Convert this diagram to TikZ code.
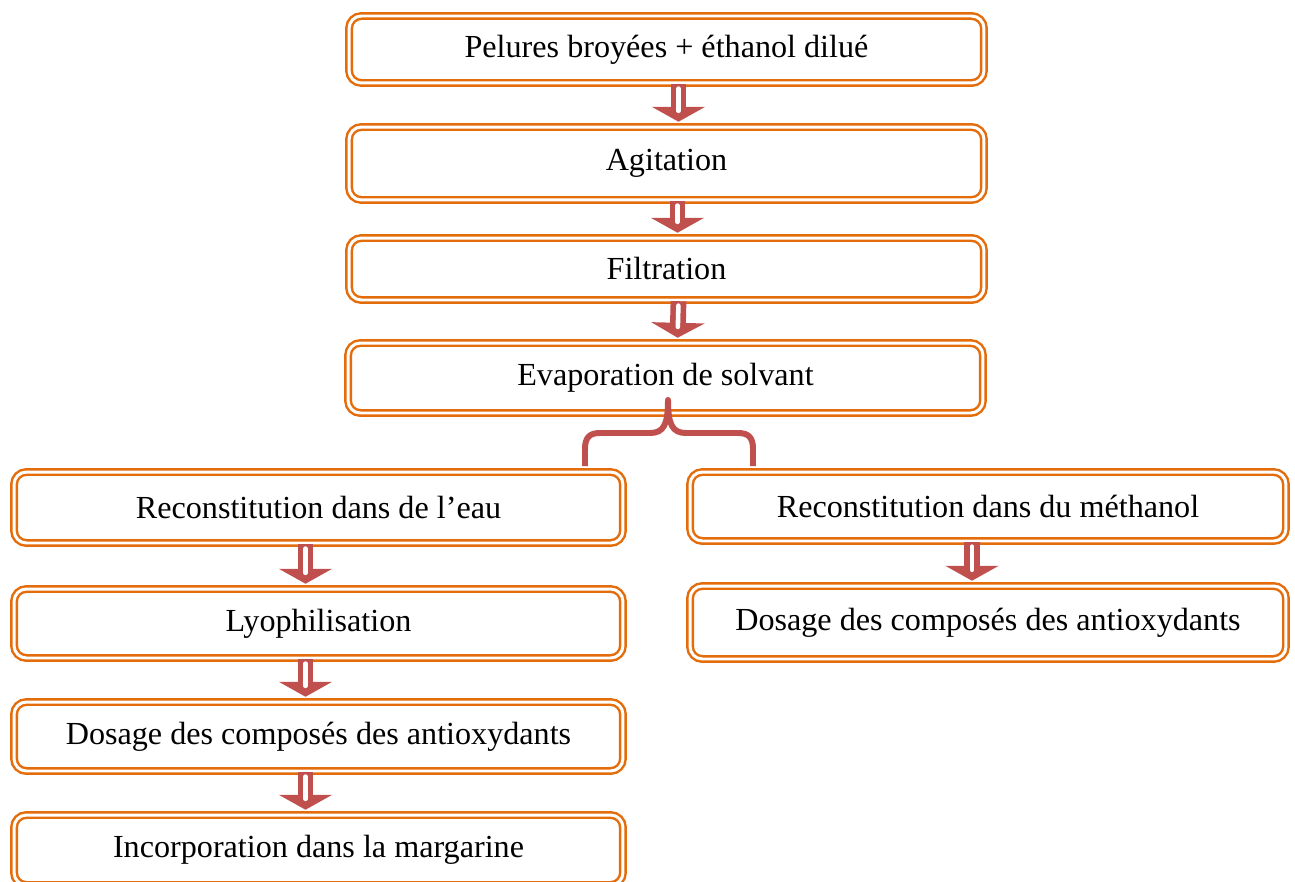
\documentclass[tikz,border=0pt]{standalone}
\usepackage{fontspec}
\setmainfont{Liberation Serif}
\usepackage{tikz}
\usetikzlibrary{arrows.meta, calc}
\usepackage{xcolor}
\definecolor{boxorange}{RGB}{228,108,10}
\definecolor{arrowred}{RGB}{192,80,77}
\tikzset{
  box/.style      = {draw=boxorange, line width=1.4pt, double=white, double distance=1.7pt,
                     rounded corners=7pt, fill=white, align=center, inner sep=4pt,
                     font=\fontsize{18.3}{22}\selectfont},
  fatarrow/.style = {draw=arrowred, line width=9pt, -{Triangle[width=30pt, length=8.5pt]},
                     shorten >=2.3pt,
                     postaction={draw=white, line width=2.6pt, -, line cap=round,
                                 shorten <=2.5pt, shorten >=8.5pt}},
  brace/.style    = {draw=arrowred, line width=3.4pt, line join=round},
}

\begin{document}
\begin{tikzpicture}[
    x=0.02cm, y=-0.02cm,
    midbox/.style={box, minimum width=12.7cm},
    leftbox/.style={box, minimum width=12.18cm},
    rightbox/.style={box, minimum width=11.92cm}
]
\useasboundingbox (0,0) rectangle (1295,882);
\clip (0,0) rectangle (1295,882);

% main column
\node[midbox, minimum height=1.34cm] (pel) at (666.5,49.5) {Pelures broyées + éthanol dilué};
\node[midbox, minimum height=1.46cm] (agi) at (666.5,163.5) {Agitation};
\node[midbox, minimum height=1.24cm] (fil) at (666.5,269) {Filtration};
\node[midbox, minimum height=1.40cm] (evap) at (665.5,378) {Evaporation de solvant};

% water branch
\node[leftbox, minimum height=1.42cm] (eau) at (318.5,507.5) {Reconstitution dans de l’eau};
\node[leftbox, minimum height=1.38cm] (lyo) at (318.5,623.5) {Lyophilisation};
\node[leftbox, minimum height=1.38cm] (dos) at (318.5,736.5) {Dosage des composés des antioxydants};
\node[leftbox, minimum height=1.40cm] (inc) at (318.5,850) {Incorporation dans la margarine};

% methanol branch
\node[rightbox, minimum height=1.38cm] (meth) at (988,506.5) {Reconstitution dans du méthanol};
\node[rightbox, minimum height=1.46cm] (dosm) at (988,622.5) {Dosage des composés des antioxydants};

\foreach \a/\b/\dx in {pel/agi/12, agi/fil/11, fil/evap/12,
                      eau/lyo/-13, lyo/dos/-13, dos/inc/-13, meth/dosm/-16}{
    \draw[fatarrow] ([xshift=\dx*0.02cm]\a.south) -- ([xshift=\dx*0.02cm]\b.north);
}

% brace splitting into the two branches
\draw[brace] (585,466) -- (585,449) .. controls (585,438) and (589,433) .. (600,433)
  -- (650,433) .. controls (664,433) and (668,424) .. (668,400)
  .. controls (668,424) and (672,433) .. (686,433)
  -- (738,433) .. controls (749,433) and (753,438) .. (753,449) -- (753,466);
\end{tikzpicture}
\end{document}
